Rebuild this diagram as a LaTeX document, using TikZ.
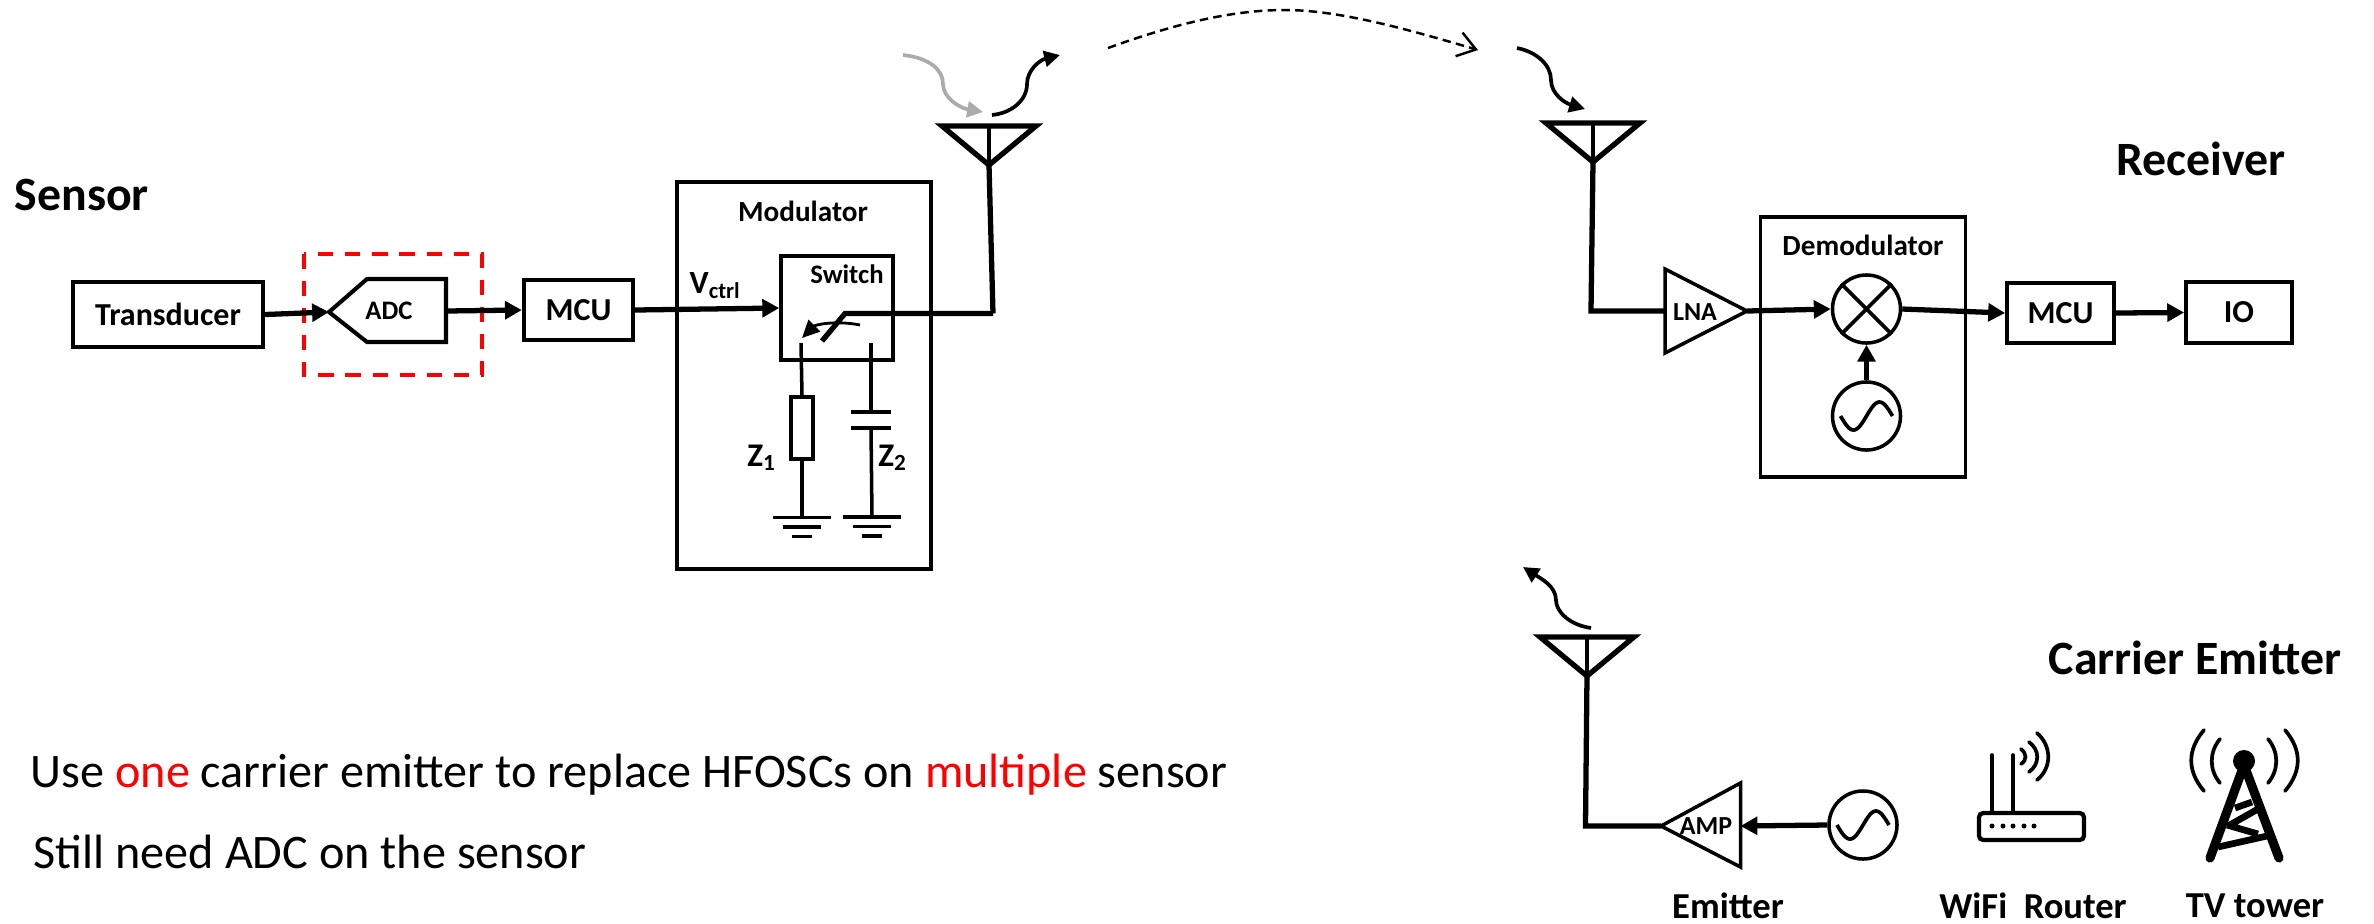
\documentclass[tikz,border=0pt]{standalone}
\usepackage{fontspec}
\usepackage{xcolor}
\usetikzlibrary{arrows.meta}
\setmainfont{Carlito}
\definecolor{cred}{HTML}{FF0000}
\definecolor{cgrey}{HTML}{ABABAB}
\definecolor{cink}{HTML}{000000}
\newcommand{\fsz}[1]{\fontsize{#1pt}{#1pt}\selectfont}
\tikzset{>={Triangle[length=4.8pt,width=5pt]},
  blockbox/.style={draw=cink,line width=1.2pt,inner sep=0pt,font=\fsz{9.1}\bfseries},
  framebox/.style={draw=cink,line width=1pt,inner sep=0pt},
  headlabel/.style={inner sep=0pt,font=\fsz{13.6}\bfseries},
  namelabel/.style={inner sep=0pt,font=\fsz{10.4}\bfseries},
  smalllabel/.style={inner sep=0pt,font=\fsz{8.3}\bfseries},
  sig/.style={->,line width=1.5pt,cink},
  wire/.style={line width=1.5pt,cink,line join=miter},
  thin wire/.style={line width=1pt,cink},
  wave/.style={->,line width=1.05pt,cink,>={Triangle[length=4.5pt,width=4.5pt]}},
  mixbox/.style={draw=cink,line width=1pt,circle,minimum size=0.68cm,inner sep=0pt},
  icon/.style={line width=1.05pt,cink,line cap=round},
  antenna/.pic={
    \coordinate (-feed) at (0,39);
    \draw[line width=1.5pt,cink,line join=miter] (-47,0) -- (47,0) -- (0,39) -- cycle;
    \draw[line width=1.05pt,cink] (0,0) -- (0,39);
  },
  sinewave/.pic={
    \draw[line width=1.05pt,cink] plot[domain=-26:26,samples=40,smooth] (\x,{-14*sin(360*\x/52)});
  },
  groundsym/.pic={
    \draw[line width=1.05pt,cink] (-29,0) -- (29,0) (-19,9.5) -- (19,9.5) (-10,19) -- (10,19);
  }
}

\begin{document}
\begin{tikzpicture}[x=0.01cm,y=-0.01cm]
\useasboundingbox (0,0) rectangle (2374,923);

% ============ sensor ============
\node[headlabel,anchor=west] (sensorhead) at (14,195) {Sensor};
\node[blockbox,minimum width=1.9cm,minimum height=0.65cm] (trans) at (168,314.5) {Transducer};
\draw[cred,dash pattern=on 4.3pt off 3.4pt,line width=1.1pt] (304,254) rectangle (482,375);
% adc outline, tip looks left
\coordinate (adctip) at (329,312);
\coordinate (adcout) at (446,311);
\draw[cink,line width=1.15pt,line join=miter] (adctip) -- (367,279) -- (446,279) -- (446,342) -- (367,342) -- cycle;
\node[inner sep=0pt,font=\fsz{7.6}\bfseries] (adc) at (389,311) {ADC};
\node[blockbox,minimum width=1.09cm,minimum height=0.6cm] (mcuA) at (578.5,310) {MCU};
\draw[sig] (trans.east) -- (adctip);
\draw[sig] (adcout) -- (mcuA.west);

% ============ modulator ============
\node[framebox,minimum width=2.54cm,minimum height=3.87cm] (modbox) at (804,375.5) {};
\node[smalllabel] (modname) at (803,211) {Modulator};
\node[framebox,minimum width=1.12cm,minimum height=1.04cm] (swbox) at (837,308) {};
\node[inner sep=0pt,font=\fsz{7.6}\bfseries] (swname) at (847,274) {Switch};
\node[inner sep=0pt,font=\fsz{9.2}\bfseries,anchor=west] (vctrl) at (689,286) {V\textsubscript{ctrl}};
\draw[sig] (mcuA.east) -- (swbox.west);
% switch arm and its small motion arrow
\coordinate (armfree) at (822,341);
\coordinate (armhinge) at (845,313.5);
\coordinate (antcorner) at (993,313.5);
\draw[wire] (armfree) -- (armhinge) -- (antcorner);
\draw[->,line width=0.8pt,cink,>={Triangle[length=5pt,width=4.6pt]}] (860,325) .. controls (835,320) and (815,325) .. (802,338);
% the two loads
\coordinate (termA) at (801,343);
\coordinate (termB) at (871,343);
\node[framebox,minimum width=0.22cm,minimum height=0.62cm] (zres) at (802,428) {};
\draw[thin wire] (termA) -- (zres.north);
\coordinate (gndA) at (802,517.5);
\coordinate (gndB) at (872,517);
\draw[thin wire] (zres.south) -- (gndA);
\coordinate (plateA) at (871,412);
\coordinate (plateB) at (871,428);
\draw[thin wire] (termB) -- (plateA);
\draw[thin wire] (plateB) -- (gndB);
\draw[line width=1.05pt,cink] (851,412) -- (891,412) (851,428) -- (891,428);
\pic at (gndA) {groundsym};
\pic at (gndB) {groundsym};
\node[inner sep=0pt,font=\fsz{9.4}\bfseries] (zone) at (762,458) {Z\textsubscript{1}};
\node[inner sep=0pt,font=\fsz{9.4}\bfseries] (ztwo) at (893,458) {Z\textsubscript{2}};

% sensor antenna with incoming and reflected waves
\pic (antA) at (989,126) {antenna};
\draw[wire] (antcorner) -- (antA-feed);
\coordinate (inA) at (903,55);
\coordinate (inB) at (983,112);
\draw[wave,cgrey] (inA) .. controls (930,58) and (943,70) .. (943,84) .. controls (943,98) and (960,108) .. (inB);
\coordinate (outA) at (992,115);
\coordinate (outB) at (1060,55);
\draw[wave] (outA) .. controls (1012,113) and (1027,100) .. (1027,84) .. controls (1027,70) and (1040,60) .. (outB);
% dashed link to the receiver
\coordinate (linkA) at (1108,48);
\coordinate (linkB) at (1478,50);
\draw[-{Straight Barb[length=5pt,width=7pt]},dash pattern=on 2.4pt off 1.5pt,line width=0.7pt,cink]
  (linkA) .. controls (1180,22) and (1235,10) .. (1285,10) .. controls (1340,10) and (1410,30) .. (linkB);

% ============ receiver ============
\node[headlabel] (rxhead) at (2201,159) {Receiver};
\pic (antB) at (1593,123) {antenna};
\coordinate (rxA) at (1517,48);
\coordinate (rxB) at (1585,109);
\draw[wave] (rxA) .. controls (1537,52) and (1551,65) .. (1551,80) .. controls (1551,94) and (1565,103) .. (rxB);
\coordinate (lnaIn) at (1665,311);
\coordinate (lnaTip) at (1747,311);
\draw[cink,line width=1pt,line join=miter] (1665,269) -- (lnaTip) -- (1665,353) -- cycle;
\node[inner sep=0pt,font=\fsz{7.4}\bfseries] (lna) at (1695,312) {LNA};
\draw[wire] (antB-feed) -- (1591,311) -- (lnaIn);
\node[framebox,minimum width=2.05cm,minimum height=2.6cm] (demodbox) at (1863,347) {};
\node[smalllabel] (demodname) at (1863,245) {Demodulator};
\node[mixbox] (mixer) at (1866.5,309) {};
\draw[line width=1.05pt,cink] (mixer.45) -- (mixer.225) (mixer.135) -- (mixer.315);
\node[mixbox] (oscR) at (1866.5,416) {};
\pic at (oscR) {sinewave};
\node[blockbox,minimum width=1.07cm,minimum height=0.6cm,line width=1.05pt] (mcuB) at (2060.5,313) {MCU};
\node[blockbox,minimum width=1.06cm,minimum height=0.61cm,line width=1.05pt] (ioB) at (2239,312.5) {IO};
\draw[sig] (lnaTip) -- (mixer.west);
\draw[sig] (mixer.east) -- (mcuB.west);
\draw[sig] (mcuB.east) -- (ioB.west);
\draw[sig] (oscR.north) -- (mixer.south);

% ============ carrier emitter ============
\node[headlabel] (cehead) at (2195,658) {Carrier Emitter};
\pic (antC) at (1587,637) {antenna};
\coordinate (txA) at (1591,628);
\coordinate (txB) at (1523,567);
\draw[wave] (txA) .. controls (1570,625) and (1556,612) .. (1556,600) .. controls (1556,586) and (1540,578) .. (txB);
\coordinate (ampTip) at (1661,826);
\coordinate (ampIn) at (1740.5,826);
\draw[cink,line width=1pt,line join=miter] (ampTip) -- (1740.5,783) -- (1740.5,867) -- cycle;
\node[inner sep=0pt,font=\fsz{7.4}\bfseries] (amp) at (1706,826) {AMP};
\draw[wire] (antC-feed) -- (1585.5,826) -- (ampTip);
\node[mixbox] (oscC) at (1863,825) {};
\pic at (oscC) {sinewave};
\draw[sig] (oscC.west) -- (ampIn);
\node[namelabel] (emname) at (1728,906) {Emitter};
\node[namelabel] (wifiname) at (2033,906) {WiFi\ \ Router};
\node[namelabel] (tvname) at (2255,906) {TV tower};

% router icon
\draw[line width=1.2pt,cink,rounded corners=1.2pt] (1979,813) rectangle (2084,840);
\foreach \xa in {1992,2013} \draw[icon] (\xa,755) -- (\xa,813);
\foreach \xa in {1992,2003,2013,2024,2034} \fill[cink] (\xa,826) ellipse (2.5 and 2.5);
\draw[icon] (2021,749) .. controls (2027,754) and (2027,760) .. (2021,764);
\draw[icon] (2029,742) .. controls (2040,750) and (2040,764) .. (2029,772);
\draw[icon] (2037,733) .. controls (2052,746) and (2052,768) .. (2037,780);

% tower icon
\fill[cink] (2244,761) ellipse (11 and 11);
\draw[cink,line width=2.6pt,line cap=round] (2210,858) -- (2244,765) -- (2279,858);
\draw[cink,line width=1.9pt] (2218,847) -- (2267,836) (2227,825) -- (2258,834) (2228,826) -- (2258,809) (2235,808) -- (2252,802);
\draw[icon] (2220,739) .. controls (2209,752) and (2209,770) .. (2220,783);
\draw[icon] (2204,730) .. controls (2187,750) and (2187,771) .. (2204,791);
\draw[icon] (2268,739) .. controls (2279,752) and (2279,770) .. (2268,783);
\draw[icon] (2285,730) .. controls (2302,750) and (2302,771) .. (2285,791);

% ============ notes ============
\node[inner sep=0pt,anchor=base west,font=\fsz{13.7}] (noteA) at (30,787)
  {Use \textcolor{cred}{one} carrier emitter to replace HFOSCs on \textcolor{cred}{multiple} sensor};
\node[inner sep=0pt,anchor=base west,font=\fsz{13.7}] (noteB) at (33,868) {Still need ADC on the sensor};

\end{tikzpicture}
\end{document}
